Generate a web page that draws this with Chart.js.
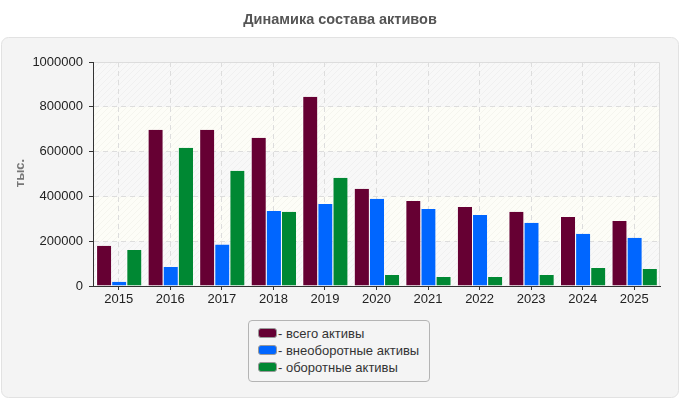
<!doctype html>
<html lang="ru">
<head>
<meta charset="utf-8">
<title>Динамика состава активов</title>
<script src="https://cdn.jsdelivr.net/npm/chart.js"></script>
<style>
  html, body { margin: 0; padding: 0; background: #fff; }
  #wrap { position: relative; width: 680px; height: 400px; }
  #legend {
    position: absolute; left: 248px; top: 320px; width: 182px; height: 62px;
    border: 1px solid #b4b4b4; border-radius: 4px; background: #f4f4f4;
    font: 13px "Liberation Sans", Arial, sans-serif; color: #333;
    box-sizing: border-box; padding: 4px 0 0 9px;
  }
  #legend div { height: 17px; line-height: 17px; white-space: nowrap; }
  #legend span {
    display: inline-block; width: 17px; height: 8px; border: 1px solid #999;
    border-radius: 3px; vertical-align: 0px; margin-right: 1px;
  }
</style>
</head>
<body>
<div id="wrap">
  <canvas id="chart" width="680" height="400"></canvas>
  <div id="legend"></div>
</div>
<script>
// data
const years = ['2015', '2016', '2017', '2018', '2019', '2020', '2021', '2022', '2023', '2024', '2025'];
const totalAssets = [180000, 697000, 697000, 662000, 845000, 434000, 380000, 353000, 331000, 308000, 290000];
const nonCurrent = [19000, 85000, 185000, 335000, 366000, 389000, 344000, 317000, 282000, 233000, 215000];
const current = [161000, 617000, 514000, 331000, 483000, 49000, 40000, 40000, 49000, 80000, 76000];
const seriesNames = ['- всего активы', '- внеоборотные активы', '- оборотные активы'];
const seriesColors = ['#660033', '#0066ff', '#008833'];

// legend
const legend = document.getElementById('legend');
seriesNames.forEach((n, i) => {
  const d = document.createElement('div');
  d.innerHTML = '<span style="background:' + seriesColors[i] + '"></span>' + n;
  legend.appendChild(d);
});

// hatch pattern
function hatch(bg, line) {
  const c = document.createElement('canvas');
  c.width = 6; c.height = 6;
  const g = c.getContext('2d');
  g.fillStyle = bg; g.fillRect(0, 0, 6, 6);
  g.strokeStyle = line; g.lineWidth = 1;
  g.beginPath();
  g.moveTo(0, 6); g.lineTo(6, 0);
  g.moveTo(-3, 3); g.lineTo(3, -3);
  g.moveTo(3, 9); g.lineTo(9, 3);
  g.stroke();
  return g.createPattern(c, 'repeat');
}

const panelPlugin = {
  id: 'panel',
  beforeDraw(chart) {
    const ctx = chart.ctx;
    ctx.save();
    ctx.fillStyle = '#fff';
    ctx.fillRect(0, 0, 680, 400);
    // panel
    ctx.beginPath();
    ctx.roundRect(1.5, 37.5, 677, 360, 7);
    ctx.fillStyle = '#f4f4f4';
    ctx.fill();
    ctx.strokeStyle = '#e2e2e2';
    ctx.lineWidth = 1;
    ctx.stroke();
    // title
    ctx.fillStyle = '#555';
    ctx.font = 'bold 14.5px "Liberation Sans", Arial, sans-serif';
    ctx.textAlign = 'center';
    ctx.textBaseline = 'middle';
    ctx.fillText('Динамика состава активов', 340, 20);
    // y title
    ctx.translate(20, 173);
    ctx.rotate(-Math.PI / 2);
    ctx.fillStyle = '#777';
    ctx.font = 'bold 13px "Liberation Sans", Arial, sans-serif';
    ctx.fillText('тыс.', 0, 0);
    ctx.restore();
    // bands
    const a = chart.chartArea, y = chart.scales.y;
    const p1 = hatch('#f8f8f8', '#f0f0f0');
    const p2 = hatch('#fdfdf7', '#f5f5ee');
    ctx.save();
    for (let v = 0; v < 1000000; v += 200000) {
      const top = y.getPixelForValue(v + 200000), bot = y.getPixelForValue(v);
      ctx.fillStyle = (v / 200000) % 2 === 0 ? p1 : p2;
      ctx.fillRect(a.left, top, a.right - a.left, bot - top);
    }
    ctx.strokeStyle = '#dcdcdc';
    ctx.lineWidth = 1;
    ctx.beginPath();
    ctx.moveTo(a.left, a.top + 0.5); ctx.lineTo(a.right - 0.5, a.top + 0.5); ctx.lineTo(a.right - 0.5, a.bottom);
    ctx.stroke();
    ctx.restore();
  }
};

const tickFont = { family: '"Liberation Sans", Arial, sans-serif', size: 13 };

new Chart(document.getElementById('chart'), {
  type: 'bar',
  data: {
    labels: years,
    datasets: [totalAssets, nonCurrent, current].map((d, i) => ({
      label: seriesNames[i],
      data: d,
      backgroundColor: seriesColors[i],
      borderColor: '#ffffff',
      borderWidth: { left: 1, right: 0, top: 0, bottom: 0 },
      borderSkipped: false,
      categoryPercentage: 0.88,
      barPercentage: 1
    }))
  },
  options: {
    responsive: false,
    animation: false,
    layout: { padding: { top: 62, right: 20, left: 0, bottom: 0 } },
    plugins: { legend: { display: false }, tooltip: { enabled: false } },
    scales: {
      x: {
        afterFit(s) { s.height = 114; },
        grid: { offset: false, color: '#dddddd', tickColor: '#333', tickLength: 4 },
        border: { color: '#333', width: 1, dash: [5, 4] },
        ticks: { color: '#222', font: tickFont, padding: 2 }
      },
      y: {
        min: 0, max: 1000000,
        afterFit(s) { s.width = 93; },
        grid: { color: '#dddddd', tickColor: '#333', tickLength: 4 },
        border: { color: '#333', width: 1, dash: [5, 4] },
        ticks: {
          stepSize: 200000, color: '#222', font: tickFont, padding: 6,
          callback: v => String(v)
        }
      }
    }
  },
  plugins: [panelPlugin, {
    id: 'axes',
    afterDraw(chart) {
      const ctx = chart.ctx, a = chart.chartArea;
      ctx.save();
      ctx.strokeStyle = '#333';
      ctx.lineWidth = 1;
      ctx.beginPath();
      ctx.moveTo(a.left + 0.5, a.top); ctx.lineTo(a.left + 0.5, a.bottom + 0.5); ctx.lineTo(a.right, a.bottom + 0.5);
      ctx.stroke();
      ctx.restore();
    }
  }]
});
</script>
</body>
</html>
